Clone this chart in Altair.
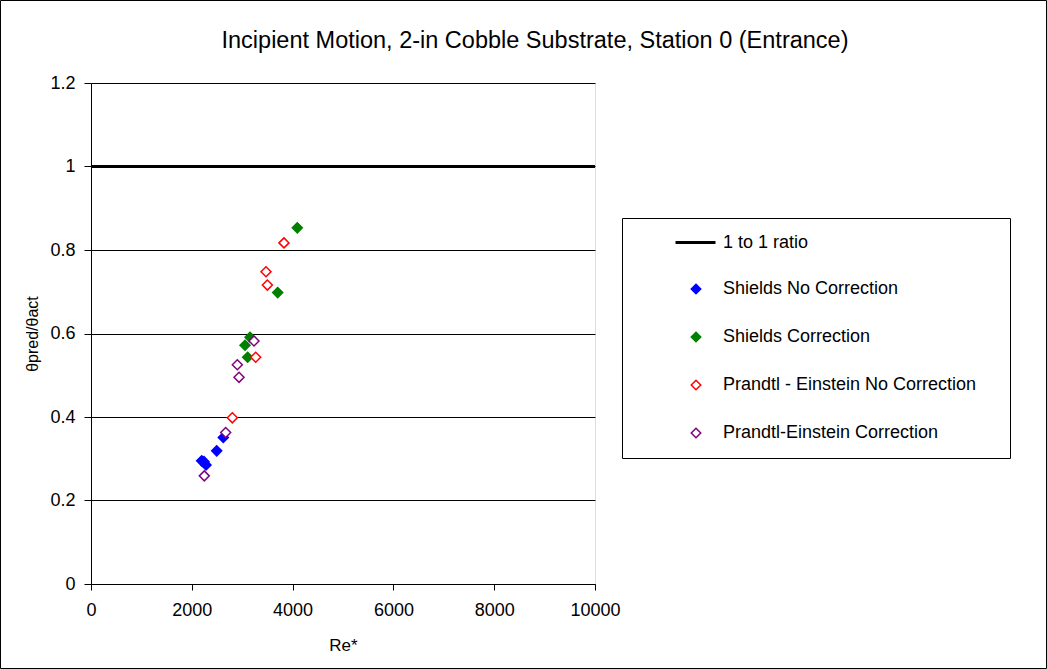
import altair as alt
import pandas as pd

series_names = ["Shields No Correction", "Shields Correction",
                "Prandtl - Einstein No Correction", "Prandtl-Einstein Correction"]
stroke_colors = ["#0000FF", "#008000", "#FF0000", "#800080"]
fill_colors = ["#0000FF", "#008000", "#FFFFFF", "#FFFFFF"]
ratio_name = "1 to 1 ratio"

shields_no_x = [2196, 2242, 2282, 2494, 2625]
shields_no_y = [0.295, 0.293, 0.285, 0.319, 0.351]
shields_c_x = [3056, 3108, 3155, 3704, 4093]
shields_c_y = [0.572, 0.543, 0.591, 0.698, 0.853]
pe_no_x = [2804, 3268, 3472, 3499, 3829]
pe_no_y = [0.398, 0.543, 0.748, 0.716, 0.817]
pe_c_x = [2248, 2672, 2903, 2937, 3234]
pe_c_y = [0.259, 0.363, 0.525, 0.495, 0.582]

ratio_x = [0, 10000]
ratio_y = [1, 1]

x_ticks = [0, 2000, 4000, 6000, 8000, 10000]
y_ticks = [0, 0.2, 0.4, 0.6, 0.8, 1.0, 1.2]

rows = []
for name, xs, ys in zip(series_names,
                        [shields_no_x, shields_c_x, pe_no_x, pe_c_x],
                        [shields_no_y, shields_c_y, pe_no_y, pe_c_y]):
    for xv, yv in zip(xs, ys):
        rows.append({"series": name, "Re": xv, "ratio": yv})
pts = pd.DataFrame(rows)
line_df = pd.DataFrame({"Re": ratio_x, "ratio": ratio_y, "lbl": [ratio_name] * len(ratio_x)})

FONT = "Liberation Sans"
W, H = 504, 501
PL, PT = 91, 83

xscale = alt.Scale(domain=[0, 10000], nice=False, zero=True)
yscale = alt.Scale(domain=[0, 1.2], nice=False)

xaxis = alt.Axis(values=x_ticks, format="d", grid=False, title="Re*", labelFlush=False,
                 titleFont=FONT, titleFontSize=17, titleFontWeight="normal",
                 titleColor="#000", titleX=W / 2, titleY=61, titleBaseline="middle",
                 labelFont=FONT, labelFontSize=18, labelColor="#000", labelPadding=11,
                 tickColor="#000", domainColor="#000", tickSize=6)
yaxis = alt.Axis(values=y_ticks, format="~g", grid=True, gridColor="#000", gridWidth=1,
                 labelFlush=False,
                 title="θpred/θact", titleFont=FONT, titleFontSize=16,
                 titleFontWeight="normal", titleColor="#000",
                 titleX=32 - PL, titleY=H / 2, titleAngle=-90,
                 titleAlign="center", titleBaseline="middle",
                 labelFont=FONT, labelFontSize=18, labelColor="#000", labelPadding=9,
                 tickColor="#000", domainColor="#000", tickSize=7)

line_legend = alt.Legend(title=None, orient="none", legendX=674 - PL, legendY=221 - PT,
                         labelFont=FONT, labelFontSize=18, labelFontWeight="normal",
                         labelColor="#000", labelOffset=6, symbolType="stroke",
                         symbolSize=1600, symbolStrokeWidth=3, symbolStrokeColor="#000",
                         padding=0, labelLimit=400)

line = alt.Chart(line_df).mark_line(color="#000", strokeWidth=3).encode(
    x=alt.X("Re:Q", scale=xscale, axis=xaxis),
    y=alt.Y("ratio:Q", scale=yscale, axis=yaxis),
    strokeDash=alt.StrokeDash("lbl:N", scale=alt.Scale(domain=[ratio_name], range=[[1, 0]]),
                              legend=line_legend),
)

pt_legend = alt.Legend(title=None, orient="none", legendX=687 - PL, legendY=280 - PT,
                       labelFont=FONT, labelFontSize=18, labelFontWeight="normal",
                       labelColor="#000", labelOffset=18, rowPadding=30,
                       symbolSize=90, symbolType="diamond",
                       symbolStrokeWidth=1.5, padding=0, labelLimit=400)

points = alt.Chart(pts).mark_point(opacity=1, strokeWidth=1.5, size=100, shape="diamond").encode(
    x=alt.X("Re:Q", scale=xscale),
    y=alt.Y("ratio:Q", scale=yscale),
    stroke=alt.Stroke("series:N", scale=alt.Scale(domain=series_names, range=stroke_colors), legend=pt_legend),
    fill=alt.Fill("series:N", scale=alt.Scale(domain=series_names, range=fill_colors), legend=pt_legend),
)

box_df = pd.DataFrame({"k": [0]})
legend_box = alt.Chart(box_df).mark_rect(fillOpacity=0, stroke="#000", strokeWidth=1).encode(
    x=alt.value(622.5 - PL), x2=alt.value(1010.5 - PL),
    y=alt.value(218.5 - PT), y2=alt.value(458.5 - PT),
)
outer_box = alt.Chart(box_df).mark_rect(fillOpacity=0, stroke="#000", strokeWidth=1).encode(
    x=alt.value(0.5 - PL), x2=alt.value(1046.5 - PL),
    y=alt.value(0.5 - PT), y2=alt.value(668.5 - PT),
)

chart = alt.layer(line, points, legend_box, outer_box).properties(
    width=W, height=H,
    title=alt.TitleParams(
        text="Incipient Motion, 2-in Cobble Substrate, Station 0 (Entrance)",
        font=FONT, fontSize=23.5, fontWeight="normal", color="#000",
        anchor="middle", frame="group", dx=192, baseline="middle", offset=-64,
    ),
    autosize=alt.AutoSizeParams(type="none"),
    padding={"left": PL, "top": PT, "right": 1047 - PL - W, "bottom": 669 - PT - H},
).configure_view(stroke="#808080", strokeWidth=1).configure(background="#FFFFFF")

chart.save("out.html", embed_options={"renderer": "svg", "actions": False})
